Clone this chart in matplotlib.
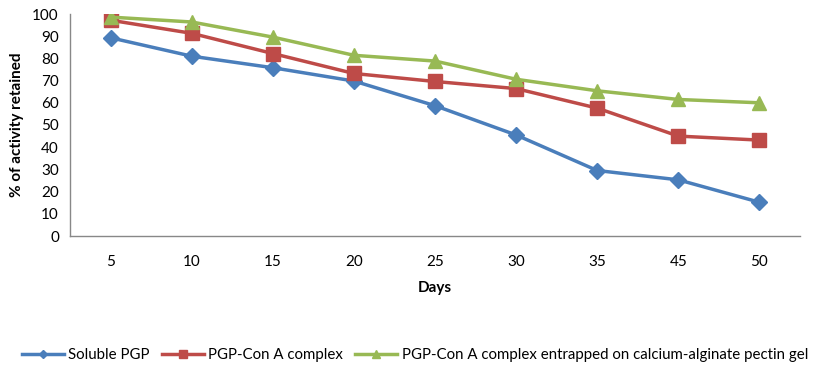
import matplotlib.pyplot as plt

plt.rcParams['font.family'] = ['Lato', 'DejaVu Sans']

days = ['5', '10', '15', '20', '25', '30', '35', '45', '50']
soluble = [89.3, 81, 75.8, 69.8, 58.7, 45.5, 29.5, 25.3, 15.2]
con_a = [97.2, 91.3, 82.2, 73.2, 69.6, 66.4, 57.6, 45, 43.2]
entrapped = [98.6, 96.4, 89.6, 81.4, 78.8, 70.6, 65.4, 61.5, 60]

fig = plt.figure(figsize=(8.18, 3.77), dpi=100)
ax = fig.add_axes([70 / 818, 141 / 377, 730 / 818, 222 / 377])

x = range(len(days))
ax.plot(x, soluble, color='#4a7ebb', lw=2.5, marker='D', ms=8,
        label='Soluble PGP')
ax.plot(x, con_a, color='#be4b48', lw=2.5, marker='s', ms=10,
        label='PGP-Con A complex')
ax.plot(x, entrapped, color='#98b954', lw=2.5, marker='^', ms=10,
        label='PGP-Con A complex entrapped on calcium-alginate pectin gel')

ax.set_xlim(-0.5, len(days) - 0.5)
ax.set_ylim(0, 100)
ax.set_yticks(range(0, 101, 10))
ax.set_xticks(list(x))
ax.set_xticklabels(days)
ax.tick_params(length=0, labelsize=11, colors='black')
ax.tick_params(axis='x', pad=14)
ax.tick_params(axis='y', pad=8)

for s in ['top', 'right']:
    ax.spines[s].set_visible(False)
for s in ['left', 'bottom']:
    ax.spines[s].set_color('#888888')
    ax.spines[s].set_linewidth(1)

ax.set_xlabel('Days', fontsize=11, fontweight='bold', labelpad=8)
ax.set_ylabel('% of activity retained', fontsize=11, fontweight='bold', labelpad=6)

ax.legend(loc='center', bbox_to_anchor=(0.5 - 20 / 730, -0.535), ncol=3, frameon=False,
          fontsize=10.8, handlelength=2.8, handletextpad=0.3, columnspacing=0.8,
          markerscale=0.55)

fig.savefig('out.png', dpi=100)
